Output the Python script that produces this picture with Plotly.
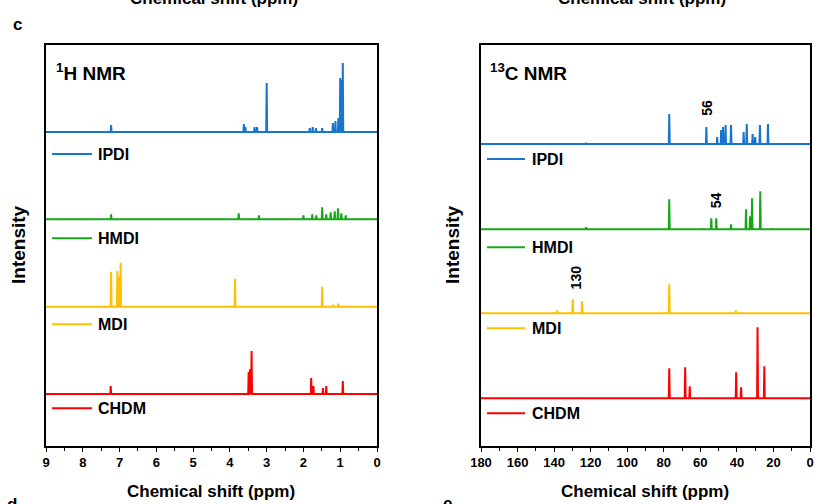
import plotly.graph_objects as go

W, H = 815, 504

# ---------------- data ----------------
names = ["IPDI", "HMDI", "MDI", "CHDM"]
colors = ["#1874CD", "#17A817", "#FFC000", "#FF0000"]

# 1H NMR peaks (ppm, relative height)
h_ipdi_ppm = [7.23, 3.62, 3.58, 3.33, 3.26, 3.00, 1.83, 1.75, 1.66, 1.49, 1.20, 1.13, 1.05, 1.00, 0.96, 0.93]
h_ipdi_int = [7, 8, 5, 5, 5, 49, 4, 5, 4, 4, 9, 11, 14, 54, 52, 69]
h_hmdi_ppm = [7.23, 3.76, 3.21, 2.00, 1.76, 1.65, 1.49, 1.38, 1.26, 1.15, 1.06, 0.97, 0.85]
h_hmdi_int = [5, 6, 4, 4, 5, 4, 12, 5, 7, 8, 11, 6, 4]
h_mdi_ppm = [7.23, 7.06, 7.02, 6.97, 3.86, 1.49, 1.20, 1.05]
h_mdi_int = [35, 36, 30, 44, 28, 20, 2, 3]
h_chdm_ppm = [7.24, 3.49, 3.45, 3.41, 1.79, 1.73, 1.47, 1.38, 0.93]
h_chdm_int = [8, 22, 25, 43, 16, 8, 6, 8, 13]
h_offsets = [314, 226.7, 139.3, 52]

# 13C NMR peaks
c_ipdi_ppm = [122.5, 77.0, 56.7, 50.8, 48.6, 47.6, 46.2, 43.2, 36.3, 34.6, 31.4, 30.0, 27.4, 23.0]
c_ipdi_int = [1, 30, 17, 7, 14, 17, 19, 19, 12, 20, 10, 7, 19, 20]
c_hmdi_ppm = [122.5, 77.0, 59.0, 54.0, 51.3, 43.2, 35.0, 32.8, 31.7, 27.2, 20.6]
c_hmdi_int = [2, 30, 1, 11, 11, 5, 20, 13, 31, 38, 1]
c_mdi_ppm = [138.3, 131.5, 129.8, 124.7, 77.0, 40.6]
c_mdi_int = [3, 1, 14, 12, 29, 3]
c_chdm_ppm = [77.0, 68.3, 65.8, 40.4, 37.7, 28.7, 25.0]
c_chdm_int = [30, 31, 12, 26, 11, 71, 32]
c_offsets = [302, 216.7, 132.7, 47.7]

h_range = [9, 0]
c_range = [180, 0]
h_ticks = list(range(0, 10))
c_ticks = list(range(0, 181, 20))

peak_labels = [("56", 56.5, 338), ("54", 51.3, 246), ("130", 127.8, 169)]

# ---------------- helpers ----------------
def stick_trace(ppm, inten, base, lo_hi, w):
    pairs = sorted(zip(ppm, inten), key=lambda t: -t[0])
    xs = [lo_hi[0]]
    ys = [base]
    for p, h in pairs:
        xs += [p + w, p, p - w]
        ys += [base, base + h, base]
    xs.append(lo_hi[1])
    ys.append(base)
    return xs, ys

def px(x):
    return x / W

def py(y):
    return 1 - y / H

fig = go.Figure()

h_sets = [(h_ipdi_ppm, h_ipdi_int), (h_hmdi_ppm, h_hmdi_int), (h_mdi_ppm, h_mdi_int), (h_chdm_ppm, h_chdm_int)]
c_sets = [(c_ipdi_ppm, c_ipdi_int), (c_hmdi_ppm, c_hmdi_int), (c_mdi_ppm, c_mdi_int), (c_chdm_ppm, c_chdm_int)]

for i, (p, it) in enumerate(h_sets):
    xs, ys = stick_trace(p, it, h_offsets[i], h_range, 0.012)
    fig.add_trace(go.Scatter(x=xs, y=ys, mode="lines", line=dict(color=colors[i], width=2),
                             name=names[i], showlegend=False, xaxis="x", yaxis="y"))
for i, (p, it) in enumerate(c_sets):
    xs, ys = stick_trace(p, it, c_offsets[i], c_range, 0.25)
    fig.add_trace(go.Scatter(x=xs, y=ys, mode="lines", line=dict(color=colors[i], width=2),
                             name=names[i], showlegend=False, xaxis="x2", yaxis="y2"))

bold = "Liberation Sans, Arial, sans-serif"
tickfont = dict(family=bold, size=13, color="black", weight="bold")
axis_common = dict(showline=True, linecolor="black", linewidth=1.5, mirror=True,
                   ticks="outside", ticklen=4, tickwidth=1.2, tickcolor="black",
                   showgrid=False, zeroline=False, tickfont=tickfont,
                   automargin=False)

fig.update_layout(
    width=W, height=H,
    margin=dict(l=0, r=0, t=0, b=0),
    plot_bgcolor="white", paper_bgcolor="white",
    xaxis=dict(domain=[px(46), px(377)], range=h_range, tickvals=h_ticks,
               minor=dict(dtick=0.5, ticks="outside", ticklen=3, tickcolor="black"),
               anchor="y", **axis_common),
    yaxis=dict(domain=[py(446), py(45)], range=[0, 401], showticklabels=False,
               showline=True, linecolor="black", linewidth=1.5, mirror=True,
               ticks="", showgrid=False, zeroline=False, anchor="x"),
    xaxis2=dict(domain=[px(481), px(810)], range=c_range, tickvals=c_ticks,
                minor=dict(dtick=10, ticks="outside", ticklen=3, tickcolor="black"),
                anchor="y2", **axis_common),
    yaxis2=dict(domain=[py(446), py(45)], range=[0, 401], showticklabels=False,
                showline=True, linecolor="black", linewidth=1.5, mirror=True,
                ticks="", showgrid=False, zeroline=False, anchor="x2"),
)

ann = []
# legend samples (lines + labels)
h_leg_y = [154, 238.3, 324.3, 408.3]
c_leg_y = [159, 247.3, 328.3, 413.3]
shapes = []
for i in range(4):
    shapes.append(dict(type="line", xref="paper", yref="paper", x0=px(52), x1=px(92),
                       y0=py(h_leg_y[i]), y1=py(h_leg_y[i]), line=dict(color=colors[i], width=2)))
    ann.append(dict(text="<b>%s</b>" % names[i], xref="paper", yref="paper", x=px(96), y=py(h_leg_y[i]),
                    xanchor="left", yanchor="middle", showarrow=False,
                    font=dict(family=bold, size=16, color="black")))
    shapes.append(dict(type="line", xref="paper", yref="paper", x0=px(487), x1=px(525),
                       y0=py(c_leg_y[i]), y1=py(c_leg_y[i]), line=dict(color=colors[i], width=2)))
    ann.append(dict(text="<b>%s</b>" % names[i], xref="paper", yref="paper", x=px(530), y=py(c_leg_y[i]),
                    xanchor="left", yanchor="middle", showarrow=False,
                    font=dict(family=bold, size=16, color="black")))

# panel titles
ann.append(dict(text="<b><sup>1</sup>H NMR</b>", xref="paper", yref="paper", x=px(54), y=py(72),
                xanchor="left", yanchor="middle", showarrow=False, font=dict(family=bold, size=19, color="black")))
ann.append(dict(text="<b><sup>13</sup>C NMR</b>", xref="paper", yref="paper", x=px(488), y=py(72),
                xanchor="left", yanchor="middle", showarrow=False, font=dict(family=bold, size=19, color="black")))

# peak labels
for t, xv, yv in peak_labels:
    ann.append(dict(text="<b>%s</b>" % t, xref="x2", yref="y2", x=xv, y=yv, textangle=-90,
                    xanchor="center", yanchor="middle", showarrow=False,
                    font=dict(family=bold, size=14, color="black")))

# axis titles
title_font = dict(family=bold, size=17, color="black")
for cx in (211, 645):
    ann.append(dict(text="<b>Chemical shift (ppm)</b>", xref="paper", yref="paper", x=px(cx), y=py(491),
                    xanchor="center", yanchor="middle", showarrow=False, font=title_font))
for cx in (214, 642):
    ann.append(dict(text="<b>Chemical shift (ppm)</b>", xref="paper", yref="paper", x=px(cx), y=py(10),
                    xanchor="center", yanchor="bottom", showarrow=False, font=title_font))
for cx in (18, 452):
    ann.append(dict(text="<b>Intensity</b>", xref="paper", yref="paper", x=px(cx), y=py(245), textangle=-90,
                    xanchor="center", yanchor="middle", showarrow=False,
                    font=dict(family=bold, size=19, color="black")))

# panel letters
ann.append(dict(text="<b>c</b>", xref="paper", yref="paper", x=px(17), y=py(24), xanchor="center",
                yanchor="middle", showarrow=False, font=dict(family=bold, size=17, color="black")))
ann.append(dict(text="<b>d</b>", xref="paper", yref="paper", x=px(12), y=py(493), xanchor="center",
                yanchor="top", showarrow=False, font=dict(family=bold, size=17, color="black")))
ann.append(dict(text="<b>e</b>", xref="paper", yref="paper", x=px(447), y=py(492), xanchor="center",
                yanchor="top", showarrow=False, font=dict(family=bold, size=17, color="black")))

fig.update_layout(annotations=ann, shapes=shapes)
fig.write_html("out.html", config={"displayModeBar": False},
               post_script="document.body.style.margin='0px';document.body.style.overflow='hidden';")
